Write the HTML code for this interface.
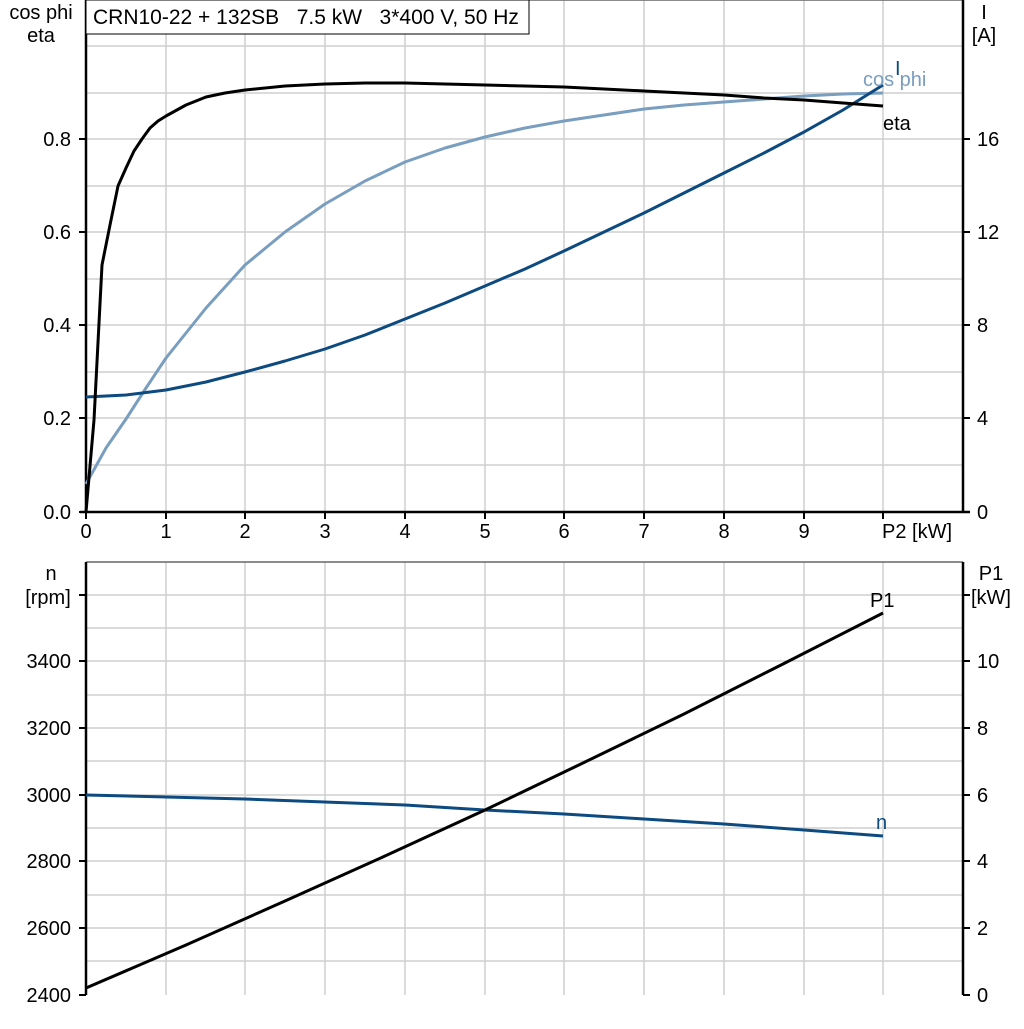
<!DOCTYPE html>
<html><head><meta charset="utf-8"><style>
html,body{margin:0;padding:0;background:#fff}
svg text{font-family:"Liberation Sans",Arial,sans-serif;font-size:20px}
</style></head><body>
<svg width="1024" height="1024" viewBox="0 0 1024 1024" xmlns="http://www.w3.org/2000/svg">
<g stroke="#cfcfcf" stroke-width="1.5" fill="none">
<path d="M166 0V512M245 0V512M325 0V512M405 0V512M485 0V512M564 0V512M644 0V512M724 0V512M804 0V512M883 0V512"/>
<path d="M86 46H963M86 93H963M86 139H963M86 186H963M86 232H963M86 279H963M86 325H963M86 372H963M86 418H963M86 465H963"/>
<path d="M166 562V995M245 562V995M325 562V995M405 562V995M485 562V995M564 562V995M644 562V995M724 562V995M804 562V995M883 562V995"/>
<path d="M86 595H963M86 628H963M86 661H963M86 695H963M86 728H963M86 761H963M86 795H963M86 828H963M86 861H963M86 895H963M86 928H963M86 961H963"/>
</g>
<path d="M86 0H963" stroke="#666" stroke-width="1.5"/>
<path d="M86 0V512M963 0V512M80 512H970" stroke="#000" stroke-width="2.5" fill="none"/>
<g stroke="#000" stroke-width="2">
<path d="M79 139H86M79 232H86M79 325H86M79 418H86M79 512H86"/>
<path d="M963 139H970M963 232H970M963 325H970M963 418H970"/>
<path d="M86 512V519M166 512V519M245 512V519M325 512V519M405 512V519M485 512V519M564 512V519M644 512V519M724 512V519M804 512V519M883 512V519"/>
</g>
<path d="M86 562H963" stroke="#666" stroke-width="1.5"/>
<path d="M86 562V995M963 562V995" stroke="#000" stroke-width="2.5" fill="none"/>
<g stroke="#000" stroke-width="2">
<path d="M79 595H86M79 661H86M79 728H86M79 795H86M79 861H86M79 928H86M79 995H86"/>
<path d="M963 595H970M963 661H970M963 728H970M963 795H970M963 861H970M963 928H970M963 995H970"/>
</g>
<rect x="86" y="0" width="443" height="34" fill="#fff" stroke="#000" stroke-width="1"/>
<text x="93" y="24" style="font-size:21px">CRN10-22 + 132SB&#160;&#160;&#160;7.5 kW&#160;&#160;&#160;3*400 V, 50 Hz</text>
<polyline fill="none" stroke="#7a9ebf" stroke-width="3" stroke-linejoin="round" points="86,484 106,448 126,419 146,388 166,358 206,308 245,265 285,232 325,204 365,181 405,162 445,148 485,137 525,128 564,121 604,115 644,109 684,105 724,102 764,99 804,96 843,94 883,93"/>
<polyline fill="none" stroke="#0d4a80" stroke-width="3" stroke-linejoin="round" points="86,397 126,395 166,390 206,382 245,372 285,361 325,349 365,335 405,319 445,303 485,286 525,269 564,251 604,232 644,213 684,193 724,173 764,153 804,132 843,110 883,85"/>
<polyline fill="none" stroke="#000" stroke-width="3" stroke-linejoin="round" points="86,512 94,420 102,265 110,225 118,186 126,168 134,151 142,139 150,128 158,121 166,116 186,105 206,97 225,93 245,90 285,86 325,84 365,83 405,83 445,84 485,85 525,86 564,87 604,89 644,91 684,93 724,95 764,98 804,100 843,103 883,106"/>
<text x="895" y="75" fill="#0d4a80">I</text>
<text x="863" y="86" fill="#7a9ebf">cos phi</text>
<text x="883" y="130">eta</text>
<polyline fill="none" stroke="#0d4a80" stroke-width="3" stroke-linejoin="round" points="86,795 245,799 405,805 485,810 564,814 644,819 724,824 804,830 883,836"/>
<polyline fill="none" stroke="#000" stroke-width="3" stroke-linejoin="round" points="86,988 186,945 285,901 385,856 485,810 584,762.5 684,714 783,664 883,613"/>
<text x="876" y="829" fill="#0d4a80">n</text>
<text x="870" y="607">P1</text>
<g text-anchor="end">
<text x="71" y="146">0.8</text><text x="71" y="239">0.6</text><text x="71" y="332">0.4</text><text x="71" y="425">0.2</text><text x="71" y="519">0.0</text>
<text x="71" y="668">3400</text><text x="71" y="735">3200</text><text x="71" y="802">3000</text><text x="71" y="868">2800</text><text x="71" y="935">2600</text><text x="71" y="1002">2400</text>
</g>
<g text-anchor="middle">
<text x="41" y="19">cos phi</text><text x="41" y="42">eta</text>
<text x="51" y="580">n</text><text x="48" y="604">[rpm]</text>
<text x="86" y="538">0</text><text x="166" y="538">1</text><text x="245" y="538">2</text><text x="325" y="538">3</text><text x="405" y="538">4</text><text x="485" y="538">5</text><text x="564" y="538">6</text><text x="644" y="538">7</text><text x="724" y="538">8</text><text x="804" y="538">9</text>
<text x="984" y="19">I</text><text x="984" y="42">[A]</text>
<text x="991" y="580">P1</text><text x="991" y="604">[kW]</text>
</g>
<text x="882" y="538">P2 [kW]</text>
<g>
<text x="977" y="146">16</text><text x="977" y="239">12</text><text x="977" y="332">8</text><text x="977" y="425">4</text><text x="977" y="519">0</text>
<text x="977" y="668">10</text><text x="977" y="735">8</text><text x="977" y="802">6</text><text x="977" y="868">4</text><text x="977" y="935">2</text><text x="977" y="1002">0</text>
</g>
</svg>
</body></html>
